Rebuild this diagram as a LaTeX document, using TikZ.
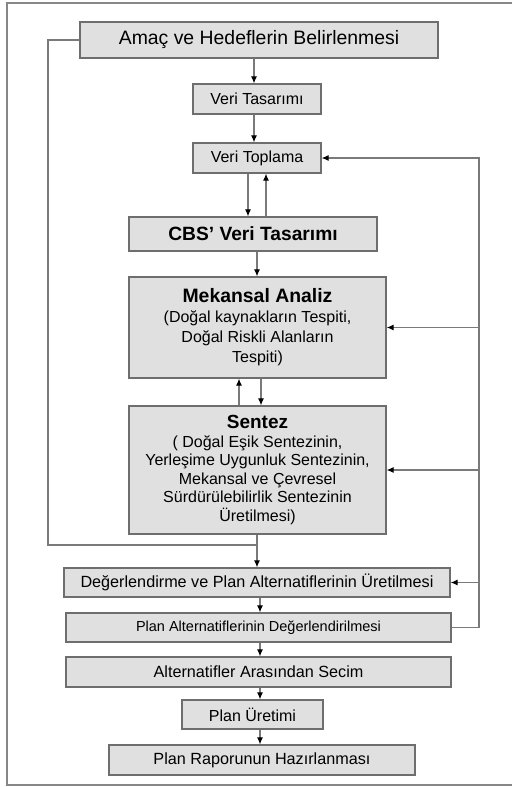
\documentclass[tikz,border=0pt]{standalone}
\usepackage{fontspec}
\setmainfont{Liberation Sans}
\usetikzlibrary{arrows.meta}
\definecolor{boxfill}{HTML}{E0E0E0}
\definecolor{boxline}{HTML}{6E6E6E}
\definecolor{linkline}{HTML}{7A7A7A}
\begin{document}
\begin{tikzpicture}[x=1pt,y=-1pt,
    stage/.style={draw=boxline,fill=boxfill,line width=1.3pt,inner sep=0pt,align=center},
    link/.style={draw=linkline,line width=1.1pt},
    arr/.style={link,-{Latex[length=7pt,width=6pt,color=black]}}]
    \useasboundingbox (0,0) rectangle (512,787);
    \draw[linkline!90,line width=1.6pt] (512,3) -- (7,3) -- (7,785) -- (512,785);
    % boxes
    \node[stage,minimum width=358pt,minimum height=36pt,font=\fontsize{19.4}{22}\selectfont] (amac) at (259,40) {Amaç ve Hedeflerin Belirlenmesi};
    \node[stage,minimum width=128pt,minimum height=30pt,font=\fontsize{16}{18}\selectfont] (veritas) at (257,99) {Veri Tasarımı};
    \node[stage,minimum width=128pt,minimum height=30pt,font=\fontsize{16}{18}\selectfont] (veritop) at (257,158) {Veri Toplama};
    \node[stage,minimum width=248pt,minimum height=34pt,font=\bfseries\fontsize{19.2}{22}\selectfont] (cbs) at (253,234) {CBS’ Veri Tasarımı};
    \node[stage,minimum width=257pt,minimum height=101pt,font=\fontsize{16}{20}\selectfont] (mekansal) at (257.5,327.5)
        {{\bfseries\fontsize{19.4}{20}\selectfont Mekansal Analiz}\\(Doğal kaynakların Tespiti,\\Doğal Riskli Alanların\\Tespiti)};
    \node[stage,minimum width=257pt,minimum height=128pt,font=\fontsize{16}{18.5}\selectfont] (sentez) at (257.5,470)
        {{\bfseries\fontsize{19}{18.5}\selectfont Sentez}\\( Doğal Eşik Sentezinin,\\Yerleşime Uygunluk Sentezinin,\\Mekansal ve Çevresel\\Sürdürülebilirlik Sentezinin\\Üretilmesi)};
    \node[stage,minimum width=386pt,minimum height=29pt,font=\fontsize{16.2}{18}\selectfont] (degerl) at (257,582.5) {Değerlendirme ve Plan Alternatiflerinin Üretilmesi};
    \node[stage,minimum width=385pt,minimum height=29pt,font=\fontsize{14.5}{17}\selectfont] (planalt) at (258.5,627.5) {Plan Alternatiflerinin Değerlendirilmesi};
    \node[stage,minimum width=385pt,minimum height=30pt,font=\fontsize{16.2}{18}\selectfont] (secim) at (258.5,672) {Alternatifler Arasından Secim};
    \node[stage,minimum width=141pt,minimum height=29pt,font=\fontsize{16}{18}\selectfont] (uretim) at (252.5,714.5) {Plan Üretimi};
    \node[stage,minimum width=306pt,minimum height=30pt,font=\fontsize{16.2}{18}\selectfont] (rapor) at (262,760) {Plan Raporunun Hazırlanması};
    % main flow
    \coordinate (lft) at (48,545);
    \coordinate (join) at (257,545);
    \coordinate (rgt) at (479,627.5);
    \draw[arr] ([xshift=-5pt]amac.south) -- ([xshift=-3pt]veritas.north);
    \draw[arr] ([xshift=-3pt]veritas.south) -- ([xshift=-3pt]veritop.north);
    \draw[arr] ([xshift=-9pt]veritop.south) -- ([xshift=-5pt]cbs.north);
    \draw[arr] ([xshift=13pt]cbs.north) -- ([xshift=9pt]veritop.south);
    \draw[arr] ([xshift=4pt]cbs.south) -- ([xshift=-0.5pt]mekansal.north);
    \draw[arr] ([xshift=3.5pt]mekansal.south) -- ([xshift=3.5pt]sentez.north);
    \draw[arr] ([xshift=-18.5pt]sentez.north) -- ([xshift=-18.5pt]mekansal.south);
    \draw[arr] ([xshift=-0.5pt]sentez.south) -- (degerl.north);
    \draw[arr] ([xshift=3pt]degerl.south) -- ([xshift=1.5pt]planalt.north);
    \draw[arr] ([xshift=1.5pt]planalt.south) -- ([xshift=1.5pt]secim.north);
    \draw[arr] ([xshift=1.5pt]secim.south) -- ([xshift=7.5pt]uretim.north);
    \draw[arr] ([xshift=7.5pt]uretim.south) -- ([xshift=-2pt]rapor.north);
    % feedback loops
    \draw[link] (amac.west) -| (lft) -- (join);
    \draw[arr] (planalt.east) -- (rgt) |- (veritop.east);
    \draw[arr] (rgt |- mekansal.east) -- (mekansal.east);
    \draw[arr] (rgt |- sentez.east) -- (sentez.east);
    \draw[arr] (rgt |- degerl.east) -- (degerl.east);
\end{tikzpicture}
\end{document}
